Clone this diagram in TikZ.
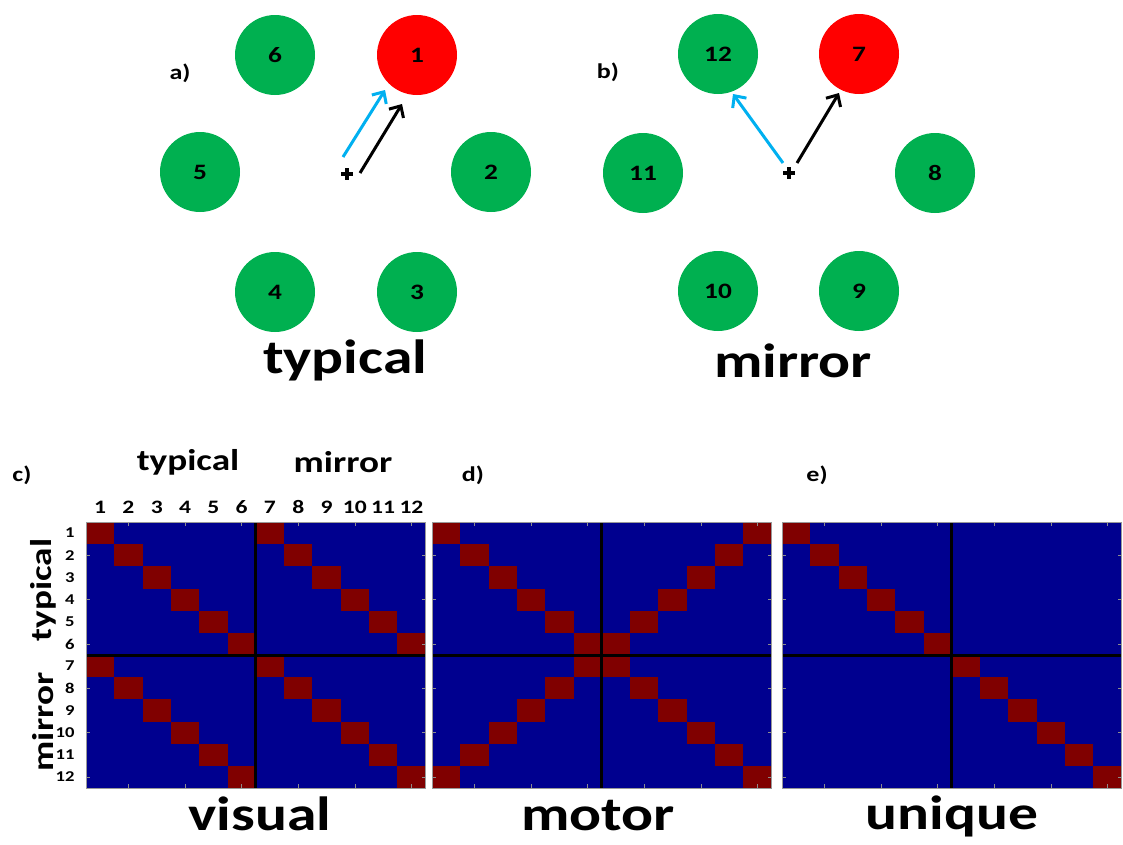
\documentclass[tikz,border=0pt]{standalone}
\usepackage{fontspec}
\setmainfont{Carlito}[FakeStretch=1.24]
\usetikzlibrary{arrows.meta,positioning}
\definecolor{tgtgreen}{RGB}{0,176,80}
\definecolor{tgtred}{RGB}{255,0,0}
\definecolor{cyanarrow}{RGB}{0,176,240}
\definecolor{jetblue}{RGB}{0,0,143}
\definecolor{jetred}{RGB}{128,0,0}
% one red cell of a 12x12 matrix: left edge, row, column
\newcommand{\hotcell}[3]{\fill[jetred] ({#1+(#3-1)*28.3},{522+(#2-1)*22.17}) rectangle ++(28.3,22.17);}

\begin{document}
\begin{tikzpicture}[x=1pt, y=-1pt, >={Straight Barb[length=9pt,width=17pt]},
    target/.style={circle, minimum size=80pt, inner sep=0pt, fill=tgtgreen, font=\bfseries\fontsize{22}{22}\selectfont},
    goal/.style={target, fill=tgtred},
    reach/.style={->, line width=3pt},
    panel/.style={font=\bfseries\fontsize{21}{21}\selectfont},
    title/.style={anchor=base, font=\bfseries\fontsize{48}{48}\selectfont},
    head/.style={font=\bfseries\fontsize{30}{30}\selectfont},
    coltick/.style={font=\bfseries\fontsize{19}{19}\selectfont},
    rowtick/.style={font=\bfseries\fontsize{15}{15}\selectfont, anchor=east}]
  \useasboundingbox (0,0) rectangle (1123,844);

  % a) typical
  \node[panel] (la) at (180,73) {a)};
  \node[goal] (t1) at (417,55) {1};
  \node[target] (t2) at (491,172) {2};
  \node[target] (t3) at (417,292) {3};
  \node[target] (t4) at (275,292) {4};
  \node[target] (t5) at (200,172) {5};
  \node[target] (t6) at (275,55) {6};
  \coordinate (fixa) at (347,174);
  \draw[line width=3.5pt] (fixa) +(-6,0) -- +(6,0) (fixa) +(0,-6) -- +(0,6);
  \coordinate (ba0) at (343,157); \coordinate (ba1) at (385,90);
  \coordinate (ka0) at (360,173); \coordinate (ka1) at (402,104);
  \draw[reach, cyanarrow] (ba0) -- (ba1);
  \draw[reach] (ka0) -- (ka1);
  \node[title] (ttyp) at (345,373) {typical};

  % b) mirror
  \node[panel] (lb) at (608,72) {b)};
  \node[goal] (t7) at (859,54) {7};
  \node[target] (t8) at (935,173) {8};
  \node[target] (t9) at (859,291) {9};
  \node[target] (t10) at (718,291) {10};
  \node[target] (t11) at (643,173) {11};
  \node[target] (t12) at (718,54) {12};
  \coordinate (fixb) at (789,173);
  \draw[line width=3.5pt] (fixb) +(-6,0) -- +(6,0) (fixb) +(0,-6) -- +(0,6);
  \coordinate (bb0) at (783,163); \coordinate (bb1) at (733,94);
  \coordinate (kb0) at (797,163); \coordinate (kb1) at (839,93);
  \draw[reach, cyanarrow] (bb0) -- (bb1);
  \draw[reach] (kb0) -- (kb1);
  \node[title] (tmir) at (793,377) {mirror};

  % c) visual
  \node[panel] (lc) at (22,475) {c)};
  \node[head] (hctyp) at (188,462) {typical};
  \node[head] (hcmir) at (343,462) {mirror};
  \node[head, rotate=90] (vctyp) at (43,590) {typical};
  \node[head, rotate=90] (vcmir) at (43,722) {mirror};
  \foreach \i in {1,...,12} {
    \node[coltick] (col\i) at ({86+(\i-0.5)*28.3},507) {\i};
    \node[rowtick] (row\i) at (78,{522+(\i-0.5)*22.17}) {\i};
  }
  \fill[jetblue] (86,522) rectangle ++(339.6,266);
  \foreach \r in {1,...,6} {
    \hotcell{86}{\r}{\r} \hotcell{86}{\r}{\r+6}
    \hotcell{86}{\r+6}{\r} \hotcell{86}{\r+6}{\r+6}
  }
  \node[title] (tvis) at (260,830) {visual};

  % d) motor
  \node[panel] (ld) at (473,475) {d)};
  \fill[jetblue] (432,522) rectangle ++(339.6,266);
  \foreach \r in {1,...,12} {
    \hotcell{432}{\r}{\r} \hotcell{432}{\r}{13-\r}
  }
  \node[title] (tmot) at (598,830) {motor};

  % e) unique
  \node[panel] (le) at (817,475) {e)};
  \fill[jetblue] (782,522) rectangle ++(339.6,266);
  \foreach \r in {1,...,12} {
    \hotcell{782}{\r}{\r}
  }
  \node[title] (tuni) at (952,829) {unique};

  % frames, ticks and dividers
  \foreach \x in {86,432,782} {
    \foreach \k in {2,4,...,12} {
      \draw[black!45, line width=0.6pt] ({\x+(\k-0.5)*28.3},522) -- ++(0,4);
      \draw[black!45, line width=0.6pt] ({\x+(\k-0.5)*28.3},788) -- ++(0,-4);
      \draw[black!45, line width=0.6pt] (\x,{522+(\k-0.5)*22.17}) -- ++(4,0);
      \draw[black!45, line width=0.6pt] ({\x+339.6},{522+(\k-0.5)*22.17}) -- ++(-4,0);
    }
    \draw[line width=3pt] ({\x+169.8},522) -- ++(0,266);
    \draw[line width=3pt] (\x,655) -- ++(339.6,0);
    \draw[black!40, line width=0.6pt] (\x,522) rectangle ++(339.6,266);
  }
\end{tikzpicture}
\end{document}
